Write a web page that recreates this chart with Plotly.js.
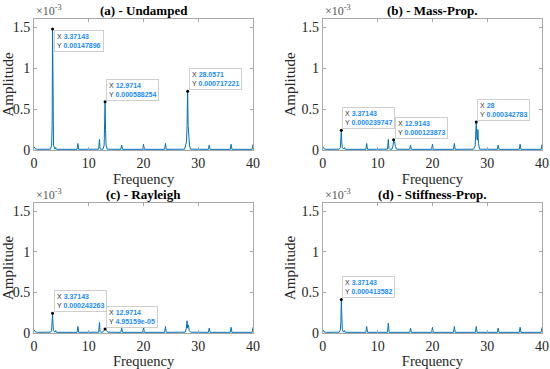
<!DOCTYPE html>
<html>
<head>
<meta charset="utf-8">
<script src="https://cdn.plot.ly/plotly-3.0.1.min.js"></script>
<style>
  html, body { margin: 0; padding: 0; background: #fff; }
  #chart { width: 550px; height: 369px; }
</style>
</head>
<body>
<div id="chart"></div>
<script>
// amplitude values are in units of 1e-3 (axis shows x10^-3)
let freqA = [0, 0.2, 0.6, 3.0, 3.2, 3.3, 3.37143, 3.45, 3.55, 3.8, 3.95, 4.05, 4.2, 7.85, 8.0, 8.15, 11.8, 11.95, 12.05, 12.2, 12.6, 12.8, 12.9, 12.9714, 13.05, 13.15, 13.35, 15.85, 16.0, 16.15, 19.85, 20.0, 20.15, 23.85, 24.0, 24.15, 27.5, 27.75, 27.85, 27.95, 28.0571, 28.15, 28.25, 28.4, 28.6, 31.85, 32.0, 32.15, 35.85, 36.0, 36.15, 39.85, 40];
let ampA = [0.04, 0.015, 0.008, 0.01, 0.06, 0.3, 1.47896, 0.3, 0.06, 0.01, 0.03, 0.01, 0.008, 0.008, 0.08, 0.008, 0.01, 0.13, 0.02, 0.01, 0.01, 0.06, 0.25, 0.588254, 0.25, 0.06, 0.01, 0.008, 0.06, 0.008, 0.008, 0.07, 0.008, 0.008, 0.08, 0.008, 0.01, 0.06, 0.1, 0.3, 0.717221, 0.3, 0.1, 0.05, 0.01, 0.008, 0.06, 0.008, 0.008, 0.07, 0.008, 0.008, 0.07];

let freqB = [0, 0.2, 0.6, 3.0, 3.2, 3.3, 3.37143, 3.45, 3.55, 3.8, 3.95, 4.05, 4.2, 7.85, 8.0, 8.15, 11.8, 11.95, 12.05, 12.2, 12.6, 12.8, 12.9143, 13.0, 13.1, 13.25, 13.45, 15.85, 16.0, 16.15, 19.85, 20.0, 20.15, 23.85, 24.0, 24.15, 27.5, 27.8, 27.9, 28.0, 28.1, 28.2, 28.3, 28.4, 28.6, 31.85, 32.0, 32.15, 35.85, 36.0, 36.15, 39.85, 40];
let ampB = [0.04, 0.015, 0.008, 0.01, 0.03, 0.1, 0.239747, 0.1, 0.03, 0.01, 0.03, 0.01, 0.008, 0.008, 0.08, 0.008, 0.01, 0.13, 0.02, 0.01, 0.01, 0.05, 0.123873, 0.09, 0.1, 0.04, 0.01, 0.008, 0.06, 0.008, 0.008, 0.07, 0.008, 0.008, 0.08, 0.008, 0.01, 0.05, 0.15, 0.342783, 0.15, 0.12, 0.25, 0.08, 0.01, 0.008, 0.06, 0.008, 0.008, 0.07, 0.008, 0.008, 0.07];

let freqC = [0, 0.2, 0.6, 3.0, 3.2, 3.3, 3.37143, 3.45, 3.55, 3.8, 3.95, 4.05, 4.2, 7.85, 8.0, 8.15, 11.8, 11.95, 12.05, 12.2, 12.5, 12.75, 12.9714, 13.2, 13.5, 15.85, 16.0, 16.15, 19.85, 20.0, 20.15, 23.85, 24.0, 24.15, 27.6, 27.8, 27.95, 28.05, 28.2, 28.35, 28.6, 31.85, 32.0, 32.15, 35.85, 36.0, 36.15, 39.85, 40];
let ampC = [0.04, 0.015, 0.008, 0.01, 0.03, 0.1, 0.243263, 0.1, 0.03, 0.01, 0.03, 0.01, 0.008, 0.008, 0.08, 0.008, 0.01, 0.13, 0.02, 0.01, 0.01, 0.03, 0.0495159, 0.03, 0.01, 0.008, 0.06, 0.008, 0.008, 0.07, 0.008, 0.008, 0.08, 0.008, 0.01, 0.05, 0.15, 0.06, 0.1, 0.03, 0.01, 0.008, 0.06, 0.008, 0.008, 0.07, 0.008, 0.008, 0.07];

let freqD = [0, 0.2, 0.6, 3.0, 3.2, 3.3, 3.37143, 3.45, 3.55, 3.8, 3.95, 4.05, 4.2, 7.85, 8.0, 8.15, 11.8, 11.95, 12.1, 15.85, 16.0, 16.15, 19.85, 20.0, 20.15, 23.85, 24.0, 24.15, 27.85, 28.0, 28.15, 31.85, 32.0, 32.15, 35.85, 36.0, 36.15, 39.85, 40];
let ampD = [0.04, 0.015, 0.008, 0.01, 0.04, 0.15, 0.413582, 0.15, 0.04, 0.01, 0.03, 0.01, 0.008, 0.008, 0.08, 0.008, 0.008, 0.12, 0.008, 0.008, 0.06, 0.008, 0.008, 0.07, 0.008, 0.008, 0.08, 0.008, 0.008, 0.08, 0.008, 0.008, 0.06, 0.008, 0.008, 0.07, 0.008, 0.008, 0.07];

let panelTitles = ['(a) - Undamped', '(b) - Mass-Prop.', '(c) - Rayleigh', '(d) - Stiffness-Prop.'];

// data tips: panel index, x, y (1e-3), texts
let tipPanel = [0, 0, 0, 1, 1, 1, 2, 2, 3];
let tipX = [3.37143, 12.9714, 28.0571, 3.37143, 12.9143, 28, 3.37143, 12.9714, 3.37143];
let tipY = [1.47896, 0.588254, 0.717221, 0.239747, 0.123873, 0.342783, 0.243263, 0.0495159, 0.413582];
let tipXText = ['3.37143', '12.9714', '28.0571', '3.37143', '12.9143', '28', '3.37143', '12.9714', '3.37143'];
let tipYText = ['0.00147896', '0.000588254', '0.000717221', '0.000239747', '0.000123873', '0.000342783', '0.000243263', '4.95159e-05', '0.000413582'];

let yTicks = [0, 0.5, 1, 1.5];
let yTickText = ['0', '0.5', '1', '1.5'];
let xTicks = [0, 10, 20, 30, 40];

let freqs = [freqA, freqB, freqC, freqD];
let amps = [ampA, ampB, ampC, ampD];

let lineColor = '#0072BD';
let axisColor = '#262626';

let domX = [[0.062, 0.46], [0.587, 0.9855], [0.062, 0.46], [0.587, 0.9855]];
let domY = [[0.5935, 0.9485], [0.5935, 0.9485], [0.0976, 0.4499], [0.0976, 0.4499]];

let traces = [];
let layout = {
    width: 550,
    height: 369,
    margin: {l: 0, r: 0, t: 0, b: 0},
    paper_bgcolor: '#fff',
    plot_bgcolor: '#fff',
    showlegend: false,
    annotations: []
};

for (let i = 0; i < 4; i++) {
    let sx = i === 0 ? '' : String(i + 1);
    traces.push({
        x: freqs[i], y: amps[i],
        xaxis: 'x' + sx, yaxis: 'y' + sx,
        mode: 'lines', line: {color: lineColor, width: 1},
        hoverinfo: 'skip'
    });
    layout['xaxis' + sx] = {
        showline: true, mirror: 'ticks', linecolor: '#a8a8a8', linewidth: 1,
        ticks: 'inside', ticklen: 3, tickcolor: '#a8a8a8',
        showgrid: false, zeroline: false,
        tickfont: {family: 'Times New Roman', size: 14, color: axisColor},
        domain: domX[i], anchor: 'y' + sx, range: [0, 40],
        tickvals: xTicks,
        title: {text: 'Frequency', font: {family: 'Times New Roman', size: 14.5, color: axisColor}, standoff: 0}
    };
    layout['yaxis' + sx] = {
        showline: true, mirror: 'ticks', linecolor: '#a8a8a8', linewidth: 1,
        ticks: 'inside', ticklen: 3, tickcolor: '#a8a8a8',
        showgrid: false, zeroline: false,
        tickfont: {family: 'Times New Roman', size: 14, color: axisColor},
        domain: domY[i], anchor: 'x' + sx, range: [0, 1.6],
        tickvals: yTicks, ticktext: yTickText,
        title: {text: 'Amplitude', font: {family: 'Times New Roman', size: 15, color: axisColor}, standoff: 2}
    };
    // panel title
    layout.annotations.push({
        xref: 'paper', yref: 'paper',
        x: (domX[i][0] + domX[i][1]) / 2, y: domY[i][1],
        xanchor: 'center', yanchor: 'bottom', yshift: -1,
        text: panelTitles[i], showarrow: false,
        font: {family: 'Times New Roman', size: 13, color: '#000', weight: 'bold'}
    });
    // exponent label
    layout.annotations.push({
        xref: 'paper', yref: 'paper',
        x: domX[i][0], y: domY[i][1],
        xanchor: 'left', yanchor: 'bottom', yshift: -1,
        text: '×10<sup>-3</sup>', showarrow: false,
        font: {family: 'Times New Roman', size: 12, color: '#555'}
    });
}

// data tip markers and boxes
for (let p = 0; p < 4; p++) {
    let sx = p === 0 ? '' : String(p + 1);
    let xs = [], ys = [];
    for (let j = 0; j < tipX.length; j++) {
        if (tipPanel[j] !== p) continue;
        xs.push(tipX[j]); ys.push(tipY[j]);
        let top = (p === 0 && j === 0);
        layout.annotations.push({
            xref: 'x' + sx, yref: 'y' + sx,
            x: tipX[j], y: tipY[j],
            xanchor: 'left', yanchor: top ? 'top' : 'bottom',
            xshift: 1, yshift: top ? -1 : 1,
            align: 'left', showarrow: false,
            text: 'X <span style="color:#1a8cff"><b>' + tipXText[j] + '</b></span><br>Y <span style="color:#1a8cff"><b>' + tipYText[j] + '</b></span>',
            font: {family: 'Arial', size: 7, color: '#333'},
            bgcolor: 'rgba(255,255,255,0.95)', bordercolor: '#cfcfcf', borderwidth: 1, borderpad: 2
        });
    }
    traces.push({
        x: xs, y: ys, xaxis: 'x' + sx, yaxis: 'y' + sx,
        mode: 'markers', marker: {color: '#000', size: 3}, hoverinfo: 'skip'
    });
}

Plotly.newPlot('chart', traces, layout, {displayModeBar: false});
</script>
</body>
</html>
